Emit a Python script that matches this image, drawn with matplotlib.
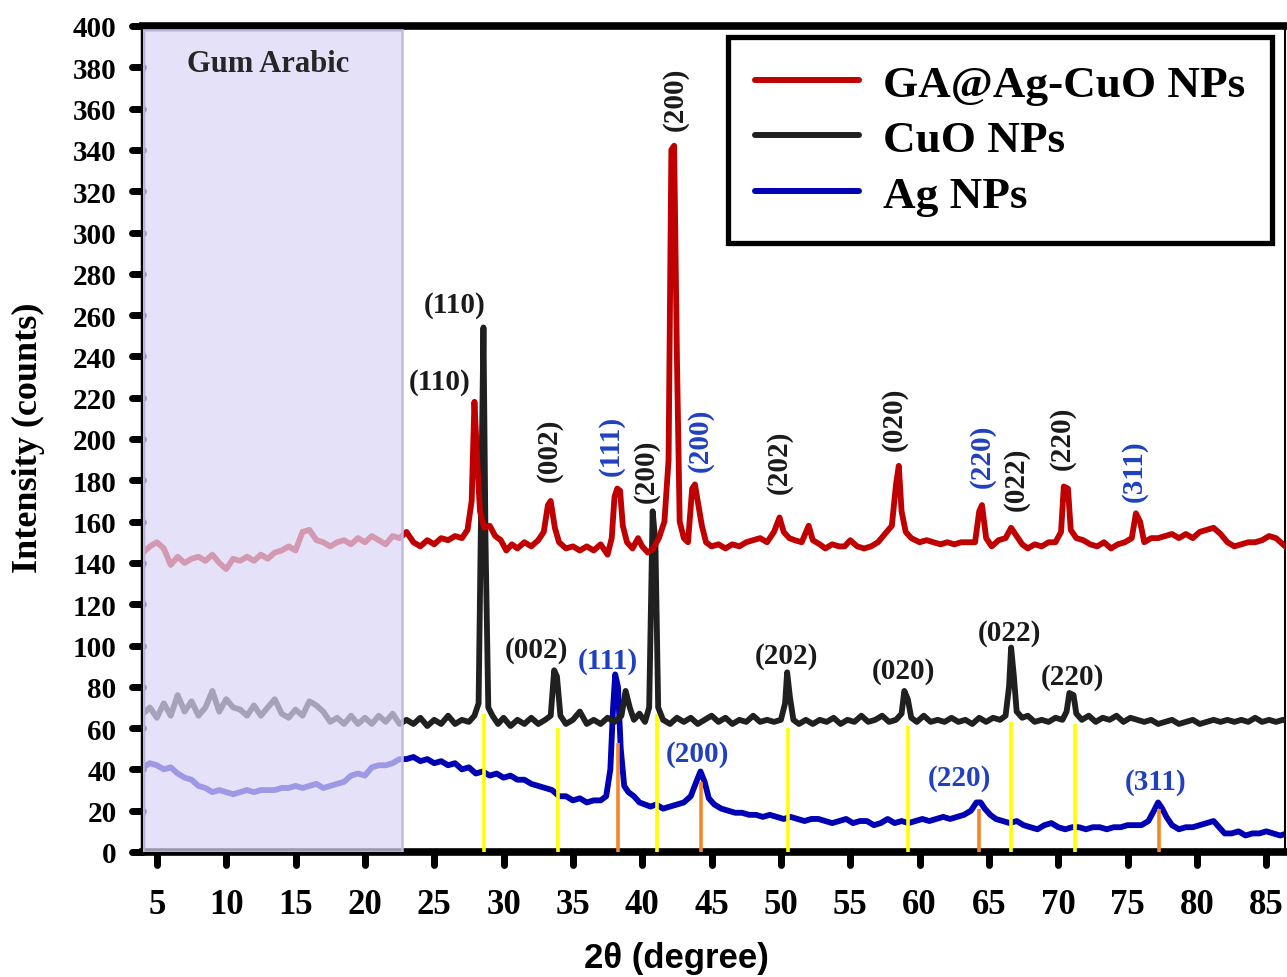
import matplotlib
matplotlib.use("Agg")
import matplotlib.pyplot as plt
from matplotlib.patches import Rectangle
from matplotlib.markers import MarkerStyle
from matplotlib.lines import Line2D

# ---------------- data ----------------
series_names = ["GA@Ag-CuO NPs", "CuO NPs", "Ag NPs"]

ga_pts = [
    (4.0, 145), (4.5, 148), (5.0, 150), (5.5, 147), (6.0, 139), (6.5, 143), (7.0, 140), (7.5, 142),
    (8.0, 143), (8.5, 141), (9.0, 144), (9.5, 140), (10.0, 137), (10.5, 142), (11.0, 141), (11.5, 143),
    (12.0, 141), (12.5, 144), (13.0, 142), (13.5, 145), (14.0, 146), (14.5, 148), (15.0, 146), (15.5, 155),
    (16.0, 156), (16.5, 151), (17.0, 150), (17.5, 148), (18.0, 150), (18.5, 151), (19.0, 149), (19.5, 152),
    (20.0, 150), (20.5, 153), (21.0, 151), (21.5, 149), (22.0, 153), (22.5, 152), (23.0, 155),
    (23.5, 150), (24.0, 148), (24.5, 151), (25.0, 149), (25.5, 152), (26.0, 151), (26.5, 153), (27.0, 152),
    (27.4, 156), (27.7, 170), (27.9, 218), (28.1, 190), (28.3, 165), (28.6, 157), (29.0, 158), (29.4, 153),
    (29.8, 151), (30.2, 146), (30.6, 149), (31.0, 147), (31.5, 150), (32.0, 148), (32.5, 151), (32.9, 155),
    (33.2, 168), (33.4, 170), (33.7, 157), (34.0, 150), (34.5, 147), (35.0, 148), (35.5, 146), (36.0, 148),
    (36.5, 146), (37.0, 149), (37.5, 144), (37.8, 152), (38.0, 172), (38.2, 176), (38.4, 175), (38.6, 158),
    (38.9, 150), (39.3, 147), (39.7, 152), (40.0, 148), (40.4, 145), (40.8, 147), (41.2, 152), (41.6, 160),
    (41.9, 190), (42.1, 340), (42.3, 342), (42.5, 240), (42.7, 160), (43.0, 152), (43.3, 150), (43.6, 176),
    (43.8, 178), (44.0, 170), (44.3, 158), (44.6, 150), (45.0, 148), (45.5, 149), (46.0, 147), (46.5, 149),
    (47.0, 148), (47.5, 150), (48.0, 151), (48.5, 152), (49.0, 150), (49.5, 155), (49.9, 162), (50.2, 155),
    (50.6, 152), (51.0, 151), (51.5, 150), (52.0, 158), (52.3, 151), (52.8, 149), (53.2, 147), (53.7, 149),
    (54.2, 148), (54.6, 148), (55.0, 151), (55.5, 148), (56.0, 147), (56.5, 148), (57.0, 150), (57.5, 154),
    (58.0, 158), (58.3, 178), (58.5, 187), (58.7, 165), (59.0, 155), (59.4, 152), (60.0, 150), (60.5, 151),
    (61.0, 150), (61.5, 149), (62.0, 150), (62.5, 149), (63.0, 150), (63.5, 150), (64.0, 150), (64.3, 165),
    (64.5, 168), (64.8, 152), (65.2, 148), (65.7, 151), (66.2, 152), (66.6, 157), (67.0, 153), (67.4, 149),
    (67.8, 147), (68.3, 149), (68.8, 148), (69.3, 150), (69.8, 150), (70.2, 155), (70.4, 177), (70.7, 176),
    (70.9, 156), (71.3, 152), (71.8, 151), (72.3, 149), (72.8, 148), (73.3, 150), (73.8, 147), (74.3, 149),
    (74.8, 150), (75.3, 152), (75.6, 164), (75.9, 160), (76.2, 150), (76.7, 152), (77.2, 152), (77.7, 153),
    (78.2, 154), (78.7, 152), (79.2, 154), (79.7, 152), (80.2, 155), (80.7, 156), (81.2, 157), (81.7, 154),
    (82.2, 150), (82.7, 148), (83.2, 149), (83.7, 150), (84.2, 150), (84.7, 151), (85.2, 153), (85.7, 152),
    (86.2, 149), (86.7, 146), (87.0, 143),
]

cuo_pts = [
    (4.0, 67), (4.5, 70), (5.0, 65), (5.5, 72), (6.0, 66), (6.5, 76), (7.0, 68), (7.5, 73), (8.0, 66),
    (8.5, 70), (9.0, 78), (9.5, 68), (10.0, 74), (10.5, 70), (11.0, 69), (11.5, 66), (12.0, 71), (12.5, 66),
    (13.0, 70), (13.5, 74), (14.0, 67), (14.5, 65), (15.0, 69), (15.5, 66), (16.0, 73), (16.5, 71),
    (17.0, 68), (17.5, 63), (18.0, 65), (18.5, 62), (19.0, 66), (19.5, 62), (20.0, 65), (20.5, 62),
    (21.0, 66), (21.5, 63), (22.0, 67), (22.5, 62), (23.0, 64),
    (23.5, 62), (24.0, 65), (24.5, 61), (25.0, 64), (25.5, 62), (26.0, 66), (26.5, 62), (27.0, 64),
    (27.5, 63), (27.9, 66), (28.2, 72), (28.45, 200), (28.55, 254), (28.7, 150), (28.9, 70), (29.2, 66),
    (29.6, 62), (30.0, 65), (30.5, 61), (31.0, 64), (31.5, 62), (32.0, 65), (32.5, 62), (33.0, 64),
    (33.4, 66), (33.65, 88), (33.85, 85), (34.1, 66), (34.5, 62), (35.0, 64), (35.5, 68), (36.0, 62),
    (36.5, 64), (37.0, 62), (37.5, 65), (38.0, 63), (38.5, 66), (38.8, 78), (39.1, 70), (39.4, 64),
    (39.8, 67), (40.2, 63), (40.5, 70), (40.75, 165), (40.95, 150), (41.15, 70), (41.5, 64), (42.0, 62),
    (42.5, 65), (43.0, 63), (43.5, 65), (44.0, 62), (44.5, 64), (45.0, 66), (45.5, 63), (46.0, 65),
    (46.5, 62), (47.0, 64), (47.5, 63), (48.0, 66), (48.5, 63), (49.0, 64), (49.5, 63), (50.0, 64),
    (50.3, 72), (50.45, 87), (50.65, 75), (50.9, 64), (51.3, 62), (51.8, 64), (52.3, 62), (52.8, 64),
    (53.3, 63), (53.8, 65), (54.3, 62), (54.8, 64), (55.3, 63), (55.8, 66), (56.3, 63), (56.8, 64),
    (57.3, 66), (57.8, 63), (58.3, 64), (58.7, 67), (58.9, 78), (59.15, 74), (59.4, 65), (59.8, 63),
    (60.3, 66), (60.8, 63), (61.3, 64), (61.8, 63), (62.3, 65), (62.8, 63), (63.3, 64), (63.8, 62),
    (64.3, 65), (64.8, 63), (65.3, 65), (65.8, 64), (66.2, 66), (66.45, 80), (66.6, 99), (66.8, 85),
    (67.0, 68), (67.4, 65), (67.8, 66), (68.3, 63), (68.8, 64), (69.3, 63), (69.8, 65), (70.3, 64),
    (70.6, 68), (70.8, 77), (71.1, 76), (71.3, 67), (71.7, 64), (72.2, 66), (72.7, 63), (73.2, 65),
    (73.7, 64), (74.2, 66), (74.7, 63), (75.2, 65), (75.7, 64), (76.2, 63), (76.7, 64), (77.2, 62),
    (77.7, 63), (78.2, 64), (78.7, 62), (79.2, 63), (79.7, 64), (80.2, 62), (80.7, 63), (81.2, 64),
    (81.7, 63), (82.2, 64), (82.7, 63), (83.2, 64), (83.7, 63), (84.2, 65), (84.7, 63), (85.2, 64),
    (85.7, 63), (86.2, 64), (86.7, 63), (87.0, 64),
]

ag_pts = [
    (4.0, 41), (4.5, 43), (5.0, 42), (5.5, 40), (6.0, 41), (6.5, 38), (7.0, 36), (7.5, 35), (8.0, 32),
    (8.5, 31), (9.0, 29), (9.5, 30), (10.0, 29), (10.5, 28), (11.0, 29), (11.5, 30), (12.0, 29), (12.5, 30),
    (13.0, 30), (13.5, 30), (14.0, 31), (14.5, 31), (15.0, 32), (15.5, 31), (16.0, 32), (16.5, 33),
    (17.0, 31), (17.5, 32), (18.0, 33), (18.5, 34), (19.0, 37), (19.5, 38), (20.0, 37), (20.5, 41),
    (21.0, 42), (21.5, 42), (22.0, 43), (22.5, 45), (23.0, 45),
    (23.5, 46), (24.0, 44), (24.5, 45), (25.0, 43), (25.5, 44), (26.0, 42), (26.5, 43), (27.0, 40),
    (27.5, 41), (28.0, 38), (28.5, 39), (29.0, 37), (29.5, 38), (30.0, 36), (30.5, 37), (31.0, 35),
    (31.5, 35), (32.0, 33), (32.5, 32), (33.0, 31), (33.5, 30), (34.0, 27), (34.5, 27), (35.0, 25),
    (35.5, 26), (36.0, 24), (36.5, 25), (37.0, 25), (37.4, 27), (37.7, 40), (37.9, 70), (38.05, 86),
    (38.25, 80), (38.45, 50), (38.7, 32), (39.0, 29), (39.4, 27), (39.8, 24), (40.2, 23), (40.6, 22),
    (41.0, 23), (41.5, 21), (42.0, 22), (42.5, 23), (43.0, 24), (43.5, 27), (43.9, 34), (44.2, 39),
    (44.5, 34), (44.8, 26), (45.2, 23), (45.7, 21), (46.2, 20), (46.7, 19), (47.2, 19), (47.7, 18),
    (48.2, 18), (48.7, 17), (49.2, 18), (49.7, 17), (50.2, 16), (50.7, 17), (51.2, 16), (51.7, 15),
    (52.2, 16), (52.7, 16), (53.2, 15), (53.7, 14), (54.2, 15), (54.7, 16), (55.2, 14), (55.7, 15),
    (56.2, 15), (56.7, 13), (57.2, 14), (57.7, 16), (58.2, 14), (58.7, 15), (59.2, 14), (59.7, 15),
    (60.2, 16), (60.7, 15), (61.2, 16), (61.7, 17), (62.2, 16), (62.7, 17), (63.2, 18), (63.7, 20),
    (64.1, 24), (64.4, 24), (64.7, 21), (65.1, 18), (65.5, 16), (66.0, 15), (66.5, 14), (67.0, 15),
    (67.5, 13), (68.0, 12), (68.5, 11), (69.0, 13), (69.5, 14), (70.0, 12), (70.5, 11), (71.0, 12),
    (71.5, 12), (72.0, 11), (72.5, 12), (73.0, 12), (73.5, 11), (74.0, 12), (74.5, 12), (75.0, 13),
    (75.5, 13), (76.0, 13), (76.5, 15), (76.9, 20), (77.2, 24), (77.5, 21), (77.8, 17), (78.2, 13),
    (78.7, 11), (79.2, 12), (79.7, 12), (80.2, 13), (80.7, 14), (81.2, 15), (81.6, 12), (82.0, 9),
    (82.5, 9), (83.0, 10), (83.5, 8), (84.0, 9), (84.5, 9), (85.0, 10), (85.5, 9), (86.0, 8),
    (86.5, 9), (87.0, 9),
]

# reference (standard) peak markers
cuo_ref_2theta = [28.6, 33.9, 41.05, 50.5, 59.2, 66.6, 71.2]
cuo_ref_top = [67, 60, 67, 60, 61, 63, 62]
ag_ref_2theta = [38.24, 44.23, 64.3, 77.25]
ag_ref_top = [53, 34, 21, 21]

# peak labels: (text, 2theta, counts, rotation, colour key)
peak_labels = [
    ("(200)", 42.35, 365, 90, "k"),
    ("(110)", 26.5, 265, 0, "k"),
    ("(110)", 25.4, 228, 0, "k"),
    ("(002)", 33.3, 195, 90, "k"),
    ("(111)", 37.8, 197, 90, "b"),
    ("(200)", 40.3, 185, 90, "k"),
    ("(200)", 44.15, 200, 90, "b"),
    ("(202)", 49.9, 189, 90, "k"),
    ("(020)", 58.2, 210, 90, "k"),
    ("(220)", 64.5, 192, 90, "b"),
    ("(022)", 67.0, 181, 90, "k"),
    ("(220)", 70.3, 201, 90, "k"),
    ("(311)", 75.5, 185, 90, "b"),
    ("(002)", 32.4, 98, 0, "k"),
    ("(111)", 37.5, 92.5, 0, "b"),
    ("(202)", 50.4, 95, 0, "k"),
    ("(020)", 58.8, 88, 0, "k"),
    ("(022)", 66.5, 106.5, 0, "k"),
    ("(220)", 71.0, 85, 0, "k"),
    ("(200)", 44.0, 47.5, 0, "b"),
    ("(220)", 62.9, 36.3, 0, "b"),
    ("(311)", 77.0, 34, 0, "b"),
]

gum_region = (4.0, 22.66)
gum_top = 398
x_ticks = list(range(5, 90, 5))
y_ticks = list(range(0, 420, 20))

# ---------------- figure ----------------
W, H = 1287, 978
fig = plt.figure(figsize=(W / 100, H / 100), dpi=100)
ax = fig.add_axes([143 / W, 1 - 853 / H, (1285 - 143) / W, (853 - 27) / H])

RED, BLACK, BLUE = "#c00000", "#202020", "#0000b4"
LBL = {"k": "#1a1a1a", "b": "#2040c0"}
serif = "Liberation Serif"

ga_x, ga_y = zip(*ga_pts)
cuo_x, cuo_y = zip(*cuo_pts)
ag_x, ag_y = zip(*ag_pts)

kw = dict(lw=4.2, solid_joinstyle="round")
ax.plot(ag_x, ag_y, color=BLUE, zorder=2, **kw)
ax.vlines(cuo_ref_2theta, 0, cuo_ref_top, colors="#ffff00", lw=2.6, zorder=3)
ax.vlines(ag_ref_2theta, 0, ag_ref_top, colors="#f5862a", lw=2.6, zorder=3)
ax.plot(cuo_x, cuo_y, color=BLACK, zorder=4, **kw)
ax.plot(ga_x, ga_y, color=RED, zorder=5, **kw)

# Gum Arabic shaded band (drawn over the curves)
ax.add_patch(Rectangle((gum_region[0], 0), gum_region[1] - gum_region[0], gum_top,
                       facecolor=(0.86, 0.84, 0.97, 0.72), edgecolor=(0.76, 0.72, 0.90),
                       lw=1.8, zorder=6))
ax.text(13.0, 382, "Gum Arabic", family=serif, weight="bold", fontsize=22,
        color="#262626", ha="center", va="center", zorder=7)

for txt, xv, yv, rot, ck in peak_labels:
    ax.text(xv, yv, txt, family=serif, weight="bold", fontsize=21, color=LBL[ck],
            rotation=rot, ha="center", va="center", zorder=7)

ax.set_xlim(4.0, 86.35)
ax.set_ylim(0, 400)
ax.set_xticks(x_ticks)
ax.set_yticks(y_ticks)

ax.tick_params(axis="x", direction="out", length=9, width=5, pad=17, labelsize=25)
ax.tick_params(axis="y", direction="out", length=8, width=5, pad=11, labelsize=21)
for lab in ax.get_xticklabels() + ax.get_yticklabels():
    lab.set_family(serif)
    lab.set_weight("bold")
for t in ax.xaxis.get_major_ticks():
    t.tick1line.set_marker(MarkerStyle(3, capstyle="round"))
for t in ax.yaxis.get_major_ticks():
    t.tick1line.set_marker(MarkerStyle(0, capstyle="round"))

ax.spines["top"].set_linewidth(5.5)
ax.spines["bottom"].set_linewidth(5.5)
ax.spines["left"].set_linewidth(3.2)
ax.spines["right"].set_linewidth(1.5)

fig.text(676 / W, 1 - 959 / H, "2θ (degree)", family="Liberation Sans", weight="bold",
         fontsize=25, ha="center", va="center")
fig.text(28 / W, 1 - 438 / H, "Intensity (counts)", family=serif, weight="bold",
         fontsize=26, rotation=90, ha="center", va="center")

handles = [Line2D([], [], color=c, lw=4.3, solid_capstyle="round") for c in (RED, BLACK, BLUE)]
leg = ax.legend(handles, series_names, loc="upper right",
                bbox_to_anchor=((1272 - 143) / (1285 - 143), (853 - 38) / (853 - 27)),
                borderaxespad=0, prop={"family": serif, "weight": "bold", "size": 32.5},
                handlelength=2.3, handletextpad=0.53, labelspacing=0.33, borderpad=0.6,
                fancybox=False, framealpha=1, edgecolor="black")
leg.get_frame().set_linewidth(3.8)
leg.set_zorder(10)

fig.savefig("out.png", dpi=100)
